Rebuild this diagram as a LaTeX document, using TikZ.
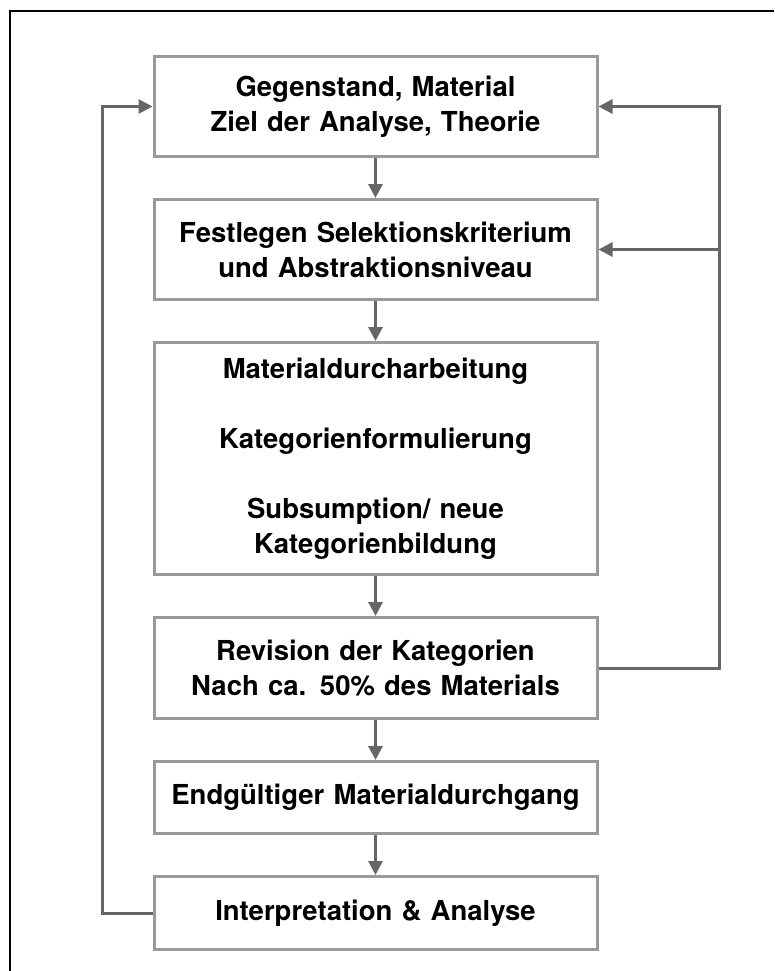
\documentclass[tikz,border=0pt]{standalone}
\usepackage{fontspec}
\setmainfont{TeX Gyre Heros}
\usetikzlibrary{positioning,arrows.meta}
\definecolor{rahmengrau}{HTML}{9A9A9A}
\definecolor{pfeilgrau}{HTML}{666666}
\tikzstyle{schritt} = [rectangle, draw=rahmengrau, line width=3pt, text width=425pt, align=center, minimum width=443pt, minimum height=100pt, inner sep=6pt, font=\fontsize{27.5}{35}\selectfont\bfseries]
\tikzstyle{pfeil} = [->, draw=pfeilgrau, line width=3pt]

\begin{document}
\begin{tikzpicture}[x=1pt, y=-1pt, node distance=40pt, >={Triangle[length=14pt,width=14pt]}]
   \useasboundingbox (0,0) rectangle (774,971);
   \draw[line width=2pt] (10,971) -- (10,11) -- (774,11);

   % nodes
   \node[schritt] (gegen) at (375.5,106.5)                {Gegenstand, Material\\Ziel der Analyse, Theorie};
   \node[schritt] (fest) [below=of gegen]                 {Festlegen Selektionskriterium\\und Abstraktionsniveau};
   \node[schritt, minimum height=232pt] (mat) [below=of fest]
        {Materialdurcharbeitung\\[35pt]Kategorienformulierung\\[35pt]Subsumption/ neue\\Kategorienbildung};
   \node[schritt, minimum height=101pt] (rev) [below=of mat] {Revision der Kategorien\\Nach ca. 50\% des Materials};
   \node[schritt, minimum height=72pt] (endg) [below=of rev] {Endgültiger Materialdurchgang};
   \node[schritt, minimum height=73pt] (inter) [below=of endg] {Interpretation \& Analyse};
   \coordinate[right=121pt of rev.east] (rechts);
   \coordinate[left=50pt of inter.west] (links);

   % edges
   \draw[pfeil] (gegen) -- (fest);
   \draw[pfeil] (fest) -- (mat);
   \draw[pfeil] (mat) -- (rev);
   \draw[pfeil] (rev) -- (endg);
   \draw[pfeil] (endg) -- (inter);
   \draw[pfeil] (rev.east) -- (rechts) |- (gegen.east);
   \draw[pfeil] (rechts) |- (fest.east);
   \draw[pfeil] (inter.west) -- (links) |- (gegen.west);
\end{tikzpicture}
\end{document}
